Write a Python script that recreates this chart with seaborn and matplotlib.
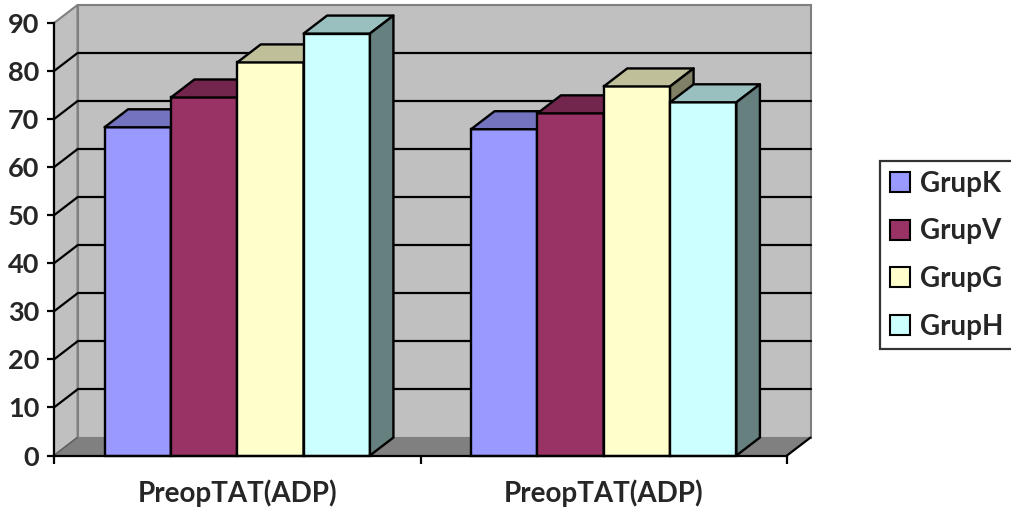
import matplotlib
matplotlib.use("Agg")
import matplotlib.pyplot as plt
import seaborn as sns
import pandas as pd
import numpy as np
from matplotlib.patches import Polygon, Patch, Rectangle
from matplotlib.lines import Line2D

# ---- data ----
group_ids = ["g1", "g2"]
tick_labels = ["PreopTAT(ADP)", "PreopTAT(ADP)"]
series = ["GrupK", "GrupV", "GrupG", "GrupH"]
grupK = [68.3, 67.9]
grupV = [74.5, 71.2]
grupG = [81.8, 76.8]
grupH = [87.8, 73.5]
yticks = [0, 10, 20, 30, 40, 50, 60, 70, 80, 90]
colors = ["#9999FF", "#993366", "#FFFFCC", "#CCFFFF"]

values = [grupK, grupV, grupG, grupH]
rows = []
for s, vals in zip(series, values):
    for g, v in zip(group_ids, vals):
        rows.append({"group": g, "series": s, "value": v})
df = pd.DataFrame(rows)

sns.set_theme(style="white")
plt.rcParams["font.family"] = ["Lato", "DejaVu Sans"]
plt.rcParams["font.weight"] = "bold"

W, H = 1012, 515
fig = plt.figure(figsize=(W / 100, H / 100), dpi=100)
fx0, fx1 = 54, 787
fy0, fy1 = 455.5, 23
ax = fig.add_axes([fx0 / W, 1 - fy0 / H, (fx1 - fx0) / W, (fy0 - fy1) / H])
ax.set_facecolor("none")

sns.barplot(data=df, x="group", y="value", hue="series", order=group_ids,
            hue_order=series, palette=colors, width=0.724, gap=0,
            errorbar=None, edgecolor="black", linewidth=1.7,
            saturation=1, legend=False, ax=ax)

bars = [p for p in ax.patches if isinstance(p, Rectangle) and p.get_height() > 0]
bars = sorted(bars, key=lambda p: p.get_x())

ax.set_xlim(-0.5, 1.5)
ax.set_ylim(0, 90)

# depth of 3-D effect in data units
px_x = ax.bbox.width / 2.0
px_y = ax.bbox.height / 90.0
dx = 23.5 / px_x
dy = 18.0 / px_y

x0, x1 = -0.5, 1.5
wall = "#C0C0C0"
edge = "#808080"
# back wall
ax.add_patch(Polygon([[x0 + dx, dy], [x1 + dx, dy], [x1 + dx, 90 + dy], [x0 + dx, 90 + dy]],
                     closed=True, facecolor=wall, edgecolor=edge, lw=1.5,
                     zorder=0.1, clip_on=False))
# left wall
ax.add_patch(Polygon([[x0, 0], [x0 + dx, dy], [x0 + dx, 90 + dy], [x0, 90]],
                     closed=True, facecolor=wall, edgecolor=edge, lw=1.5,
                     zorder=0.15, clip_on=False))
# gridlines
for v in yticks[1:-1]:
    ax.add_line(Line2D([x0 + dx, x1 + dx], [v + dy, v + dy], color="black", lw=1.6,
                       zorder=0.2, clip_on=False))
    ax.add_line(Line2D([x0, x0 + dx], [v, v + dy], color="black", lw=1.6,
                       zorder=0.2, clip_on=False))
# floor
ax.add_patch(Polygon([[x0, 0], [x1, 0], [x1 + dx, dy], [x0 + dx, dy]],
                     closed=True, facecolor="#808080", edgecolor="none",
                     zorder=0.3, clip_on=False))
ax.add_line(Line2D([x1, x1 + dx], [0, dy], color="black", lw=1.6, zorder=0.35, clip_on=False))
ax.add_line(Line2D([x0, x0 + dx], [0, dy], color="#606060", lw=1.0, zorder=0.35, clip_on=False))


def shade(c, f):
    r, g, b = matplotlib.colors.to_rgb(c)
    return (r * f, g * f, b * f)


for i, p in enumerate(bars):
    bx, bw, bh = p.get_x(), p.get_width(), p.get_height()
    fc = p.get_facecolor()
    z = 2 + i
    p.set_zorder(z)
    p.set_clip_on(False)
    top = Polygon([[bx, bh], [bx + bw, bh], [bx + bw + dx, bh + dy], [bx + dx, bh + dy]],
                  closed=True, facecolor=shade(fc, 0.75), edgecolor="black", lw=1.7,
                  zorder=z + 0.5, clip_on=False, joinstyle="round")
    side = Polygon([[bx + bw, 0], [bx + bw + dx, dy], [bx + bw + dx, bh + dy], [bx + bw, bh]],
                   closed=True, facecolor=shade(fc, 0.5), edgecolor="black", lw=1.7,
                   zorder=z + 0.5, clip_on=False, joinstyle="round")
    ax.add_patch(top)
    ax.add_patch(side)

# axes styling
for s in ["top", "right"]:
    ax.spines[s].set_visible(False)
for s in ["left", "bottom"]:
    ax.spines[s].set_color("black")
    ax.spines[s].set_linewidth(1.6)
    ax.spines[s].set_zorder(50)

ax.set_yticks(yticks)
ax.set_yticklabels([str(v) for v in yticks], fontsize=19.5, fontweight="bold")
ax.tick_params(axis="y", direction="out", length=5, width=1.6, color="black", pad=5.5, left=True)
ax.set_xticks([0, 1])
ax.set_xticklabels(tick_labels, fontsize=20, fontweight="bold")
ax.set_xticks([-0.5, 0.5, 1.5], minor=True)
ax.tick_params(axis="x", which="major", length=0, pad=17)
ax.tick_params(axis="x", which="minor", direction="out", length=6, width=1.6, color="black", bottom=True)
ax.set_xlabel("")
ax.set_ylabel("")
ax.grid(False)

handles = [Patch(facecolor=c, edgecolor="black", lw=1.5) for c in colors]
leg = fig.legend(handles, series, loc="upper left",
                 bbox_to_anchor=(880 / W, 1 - 161 / H), bbox_transform=fig.transFigure,
                 frameon=True, fancybox=False, prop={"size": 20, "weight": "bold"},
                 handlelength=0.72, handleheight=0.72, handletextpad=0.36,
                 labelspacing=0.78, borderpad=0.35, borderaxespad=0)
leg.get_frame().set_edgecolor("black")
leg.get_frame().set_linewidth(1.6)

fig.savefig("out.png", dpi=100)
